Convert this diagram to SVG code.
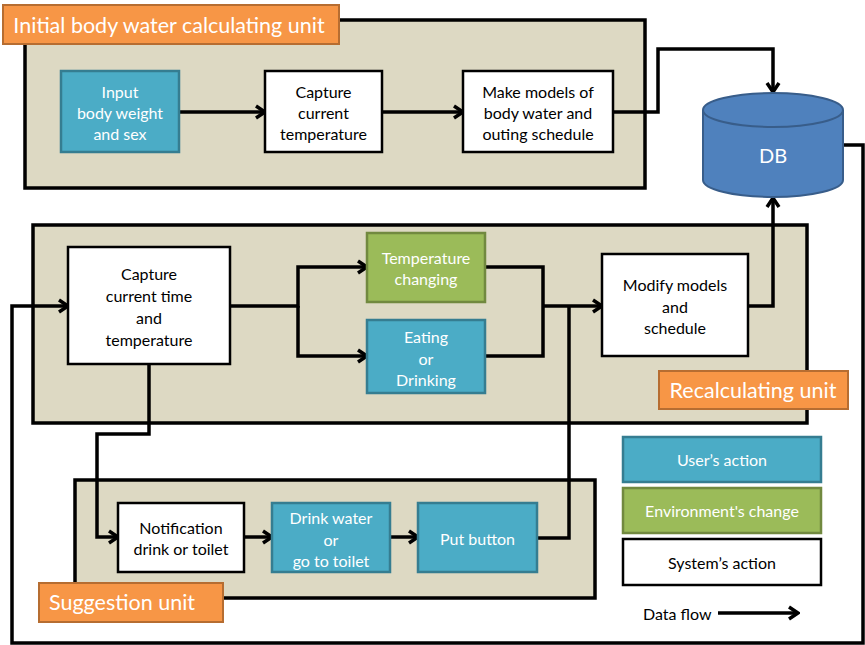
<svg xmlns="http://www.w3.org/2000/svg" width="865" height="645" viewBox="0 0 865 645">
  <style>
    text { font-family: Lato, "Open Sans", "Liberation Sans", sans-serif; text-anchor: middle; dominant-baseline: central; }
    .panel { fill: #ddd9c3; stroke: #000; stroke-width: 3.5; }
    .label rect { fill: #f79646; stroke: #b66d31; stroke-width: 2; }
    .label text { fill: #fff; font-size: 21.5px; }
    .sys rect { fill: #fff; stroke: #000; stroke-width: 2.5; }
    .sys text { fill: #000; font-size: 16px; }
    .user rect { fill: #4bacc6; stroke: #357d91; stroke-width: 2.5; }
    .user text { fill: #fff; font-size: 16px; }
    .env rect { fill: #9bbb59; stroke: #71893f; stroke-width: 2.5; }
    .env text { fill: #fff; font-size: 16px; }
    .flow { fill: none; stroke: #000; stroke-width: 3.5; }
  </style>
  <defs>
    <marker id="arrow" viewBox="-12 -8 14 16" markerWidth="14" markerHeight="16" refX="0" refY="0" orient="auto" markerUnits="userSpaceOnUse">
      <path d="M-9,-6 L0,0 L-9,6" fill="none" stroke="#000" stroke-width="3.5"/>
    </marker>
  </defs>

  <!-- unit panels -->
  <rect class="panel" x="25" y="20" width="620" height="168"/>
  <rect class="panel" x="33" y="225" width="774" height="198"/>
  <rect class="panel" x="75" y="480" width="520" height="118"/>

  <!-- connectors -->
  <g id="connectors">
    <path class="flow" d="M179,112 H265" marker-end="url(#arrow)"/>
    <path class="flow" d="M382,112 H463" marker-end="url(#arrow)"/>
    <path class="flow" d="M613,112 H658 V49 H773 V92" marker-end="url(#arrow)"/>
    <path class="flow" d="M843,145 H863 V643 H12 V306 H68" marker-end="url(#arrow)"/>
    <path class="flow" d="M230,306 H298 V267 H367" marker-end="url(#arrow)"/>
    <path class="flow" d="M298,306 V356 H367" marker-end="url(#arrow)"/>
    <path class="flow" d="M485,267 H543 V356 H485"/>
    <path class="flow" d="M543,306 H602" marker-end="url(#arrow)"/>
    <path class="flow" d="M748,306 H773 V198" marker-end="url(#arrow)"/>
    <path class="flow" d="M537,538 H569 V306"/>
    <path class="flow" d="M149,364 V434 H97 V537 H118" marker-end="url(#arrow)"/>
    <path class="flow" d="M244,537 H272" marker-end="url(#arrow)"/>
    <path class="flow" d="M390,537 H418" marker-end="url(#arrow)"/>
  </g>

  <!-- unit labels -->
  <g id="label-initial" class="label">
    <rect x="3" y="5" width="336" height="39"/>
    <text x="169" y="25">Initial body water calculating unit</text>
  </g>
  <g id="label-recalc" class="label">
    <rect x="659" y="371" width="189" height="38"/>
    <text x="753" y="390">Recalculating unit</text>
  </g>
  <g id="label-suggest" class="label">
    <rect x="39" y="583" width="184" height="39"/>
    <text x="122" y="602">Suggestion unit</text>
  </g>

  <!-- initial body water calculating unit -->
  <g id="input" class="user">
    <rect x="61" y="71" width="118" height="81"/>
    <text x="120" y="91">Input</text>
    <text x="120" y="112">body weight</text>
    <text x="120" y="133">and sex</text>
  </g>
  <g id="capture-temp" class="sys">
    <rect x="265" y="71" width="117" height="81"/>
    <text x="323.5" y="91">Capture</text>
    <text x="323.5" y="112">current</text>
    <text x="323.5" y="133">temperature</text>
  </g>
  <g id="make-models" class="sys">
    <rect x="463" y="71" width="150" height="81"/>
    <text x="538" y="91">Make models of</text>
    <text x="538" y="112">body water and</text>
    <text x="538" y="133">outing schedule</text>
  </g>

  <!-- database -->
  <g id="db">
    <path d="M703,110 V180 A70,17 0 0 0 843,180 V110" fill="#4f81bd" stroke="#385d8a" stroke-width="2"/>
    <ellipse cx="773" cy="110" rx="70" ry="17" fill="#4f81bd" stroke="#385d8a" stroke-width="2"/>
    <text x="773" y="155" fill="#fff" font-size="20">DB</text>
  </g>

  <!-- recalculating unit -->
  <g id="capture-time" class="sys">
    <rect x="68" y="247" width="162" height="117"/>
    <text x="149" y="273">Capture</text>
    <text x="149" y="295">current time</text>
    <text x="149" y="317">and</text>
    <text x="149" y="339">temperature</text>
  </g>
  <g id="temp-changing" class="env">
    <rect x="367" y="233" width="118" height="69"/>
    <text x="426" y="257">Temperature</text>
    <text x="426" y="278">changing</text>
  </g>
  <g id="eating" class="user">
    <rect x="367" y="320" width="118" height="73"/>
    <text x="426" y="336">Eating</text>
    <text x="426" y="358">or</text>
    <text x="426" y="379">Drinking</text>
  </g>
  <g id="modify" class="sys">
    <rect x="602" y="254" width="146" height="102"/>
    <text x="675" y="284">Modify models</text>
    <text x="675" y="306">and</text>
    <text x="675" y="327">schedule</text>
  </g>

  <!-- suggestion unit -->
  <g id="notification" class="sys">
    <rect x="118" y="503" width="126" height="69"/>
    <text x="181" y="527">Notification</text>
    <text x="181" y="548">drink or toilet</text>
  </g>
  <g id="drink" class="user">
    <rect x="272" y="503" width="118" height="69"/>
    <text x="331" y="517">Drink water</text>
    <text x="331" y="539">or</text>
    <text x="331" y="560">go to toilet</text>
  </g>
  <g id="put-button" class="user">
    <rect x="418" y="503" width="119" height="69"/>
    <text x="477.5" y="538">Put button</text>
  </g>

  <!-- legend -->
  <g id="legend-user" class="user">
    <rect x="623" y="437" width="198" height="45"/>
    <text x="722" y="459">User’s action</text>
  </g>
  <g id="legend-env" class="env">
    <rect x="623" y="488" width="198" height="45"/>
    <text x="722" y="510">Environment's change</text>
  </g>
  <g id="legend-sys" class="sys">
    <rect x="623" y="539" width="198" height="46"/>
    <text x="722" y="562">System’s action</text>
  </g>
  <g id="legend-flow">
    <text x="643" y="613" font-size="16" style="text-anchor:start">Data flow</text>
    <path class="flow" d="M718,613 H798" marker-end="url(#arrow)"/>
  </g>
</svg>
